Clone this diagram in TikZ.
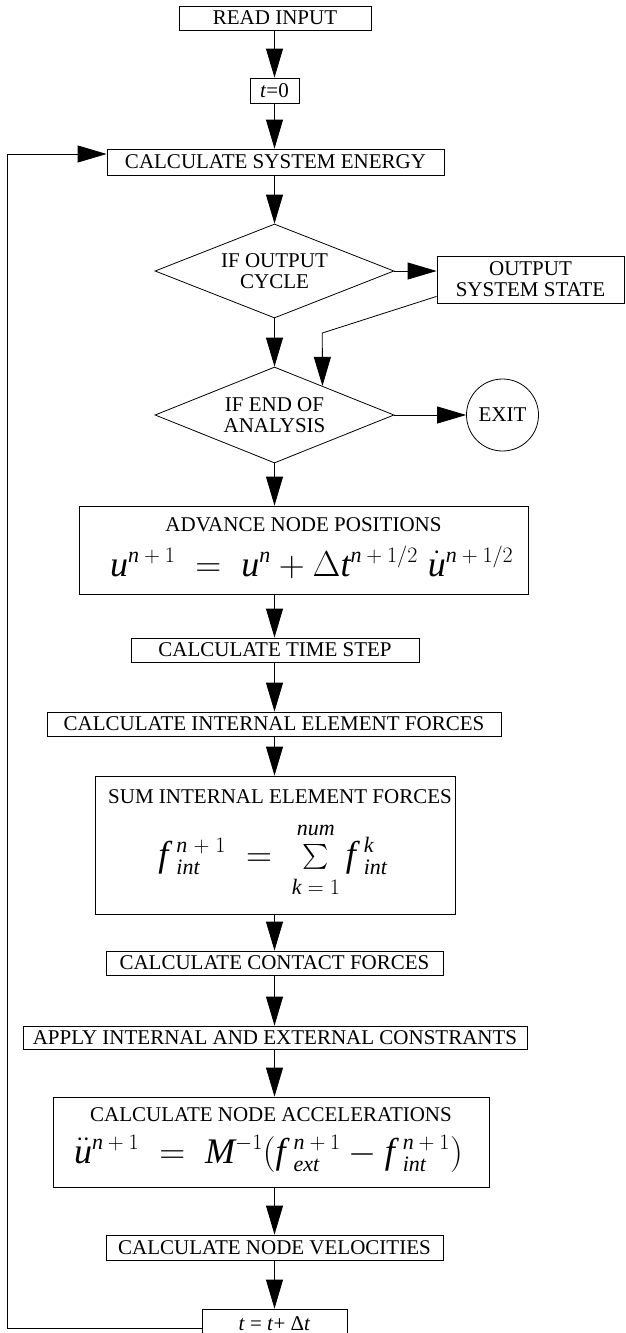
\documentclass[tikz,border=0pt]{standalone}
\usepackage{fix-cm}
\usepackage{amsmath}
\usepackage{fontspec}
\setmainfont{Liberation Serif}
\usetikzlibrary{shapes.geometric,arrows.meta,calc}
\DeclareMathSizes{36}{36}{22}{16}

\tikzset{
  box/.style={draw,line width=0.8pt,inner sep=0pt,align=center,font=\fontsize{21}{21}\selectfont},
  test/.style={diamond,aspect=2.5,draw,line width=0.8pt,inner sep=0pt,align=center,font=\fontsize{21}{21}\selectfont},
  boxtitle/.style={inner sep=0pt,font=\fontsize{21}{21}\selectfont},
  eqn/.style={inner sep=0pt,font=\fontsize{36}{40}\selectfont},
  flow/.style={line width=0.8pt,-{Triangle[length=29pt,width=17pt]}},
}

\begin{document}
\begin{tikzpicture}[x=1pt,y=-1pt]
  \useasboundingbox (0,0) rectangle (626,1333);
  \node[box,minimum width=192pt,minimum height=24pt] (read) at (275,18) {READ INPUT};
  \node[box,minimum width=49pt,minimum height=25pt] (tzero) at (274.5,90.5) {\textit{t}=0};
  \node[box,minimum width=337pt,minimum height=26pt] (cse) at (275.5,162) {CALCULATE SYSTEM ENERGY};
  \node[test,minimum width=239pt,minimum height=94pt] (d1) at (274.5,271) {IF OUTPUT\\CYCLE};
  \node[box,minimum width=187pt,minimum height=47pt] (out) at (530.5,279.5) {OUTPUT\\SYSTEM STATE};
  \node[test,minimum width=239pt,minimum height=96pt] (d2) at (274.5,415) {IF END OF\\ANALYSIS};
  \node[box,circle,minimum size=72pt] (exit) at (502.5,415) {EXIT};
  \node[box,minimum width=449pt,minimum height=88pt] (adv) at (303.5,550) {};
  \node[boxtitle] (advtitle) at (303.5,525) {ADVANCE NODE POSITIONS};
  \node[eqn,anchor=base west] (adveq) at (110,576)
    {$\mathit{u}^{\mathit{n}\:+\:1}\;=\;\mathit{u}^{\mathit{n}}+\Delta\mathit{t}^{\mathit{n}\:+\:1/2}\;\dot{\mathit{u}}^{\mathit{n}\:+\:1/2}$};
  \node[box,minimum width=288pt,minimum height=24pt] (ts) at (275,650) {CALCULATE TIME STEP};
  \node[box,minimum width=454pt,minimum height=24pt] (ief) at (274,724) {CALCULATE INTERNAL ELEMENT FORCES};
  \node[box,minimum width=360pt,minimum height=138pt] (sum) at (275,845) {};
  \node[boxtitle] (sumtitle) at (280,797) {SUM INTERNAL ELEMENT FORCES};
  \node[eqn,anchor=base] (sumeq) at (273,866)
    {$\mathit{f}\mkern4mu^{\mathit{n}\;+\;1}_{\mathit{int}}\;=\;\textstyle\sum\limits_{\rule{0pt}{21pt}\mathit{k}\;=\;1}^{\mathit{num}\rule[-6pt]{0pt}{6pt}}\mathit{f}\mkern4mu^{\mathit{k}}_{\mathit{int}}$};
  \node[box,minimum width=337pt,minimum height=24pt] (contact) at (274.5,963) {CALCULATE CONTACT FORCES};
  \node[box,minimum width=504pt,minimum height=23pt] (apply) at (275,1037.5) {APPLY INTERNAL AND EXTERNAL CONSTRANTS};
  \node[box,minimum width=436pt,minimum height=90pt] (acc) at (271,1142) {};
  \node[boxtitle] (acctitle) at (271,1115) {CALCULATE NODE ACCELERATIONS};
  \node[eqn,anchor=base east] (acceq) at (463,1163)
    {$\ddot{\mathit{u}}^{\mathit{n}\:+\:1}\;=\;\mathit{M}^{-1}(\mathit{f}\mkern4mu^{\mathit{n}\:+\:1}_{\mathit{ext}}-\mathit{f}\mkern4mu^{\mathit{n}\:+\:1}_{\mathit{int}})$};
  \node[box,minimum width=337pt,minimum height=25pt] (vel) at (274.5,1247.5) {CALCULATE NODE VELOCITIES};
  \node[box,minimum width=145pt,minimum height=30pt] (tpt) at (274.5,1324) {\textit{t} = \textit{t}+ Δ\textit{t}};
  \coordinate (ax) at (274.5,0);
  \draw[flow] (ax |- read.south) -- (ax |- tzero.north);
  \draw[flow] (ax |- tzero.south) -- (ax |- cse.north);
  \draw[flow] (ax |- cse.south) -- (d1.north);
  \draw[flow] (d1.south) -- (d2.north);
  \draw[flow] (d1.east) -- (d1.east -| out.west);
  \draw[flow] (d2.east) -- (exit.west);
  \coordinate (d2in) at ($(d2.north)!0.4!(d2.east)$);
  \coordinate (bend) at (322.3,333);
  \draw[flow] ([yshift=7pt]out.south west) -- (bend) -- (d2in);
  \draw[flow] (d2.south) -- (ax |- adv.north);
  \draw[flow] (ax |- adv.south) -- (ax |- ts.north);
  \draw[flow] (ax |- ts.south) -- (ax |- ief.north);
  \draw[flow] (ax |- ief.south) -- (ax |- sum.north);
  \draw[flow] (ax |- sum.south) -- (ax |- contact.north);
  \draw[flow] (ax |- contact.south) -- (ax |- apply.north);
  \draw[flow] (ax |- apply.south) -- (ax |- acc.north);
  \draw[flow] (ax |- acc.south) -- (ax |- vel.north);
  \draw[flow] (ax |- vel.south) -- (ax |- tpt.north);
  \coordinate (lp) at (7,154);
  \draw[flow] ([yshift=-4pt]tpt.west) -| (lp) -- ([yshift=8pt]cse.west);
\end{tikzpicture}
\end{document}
